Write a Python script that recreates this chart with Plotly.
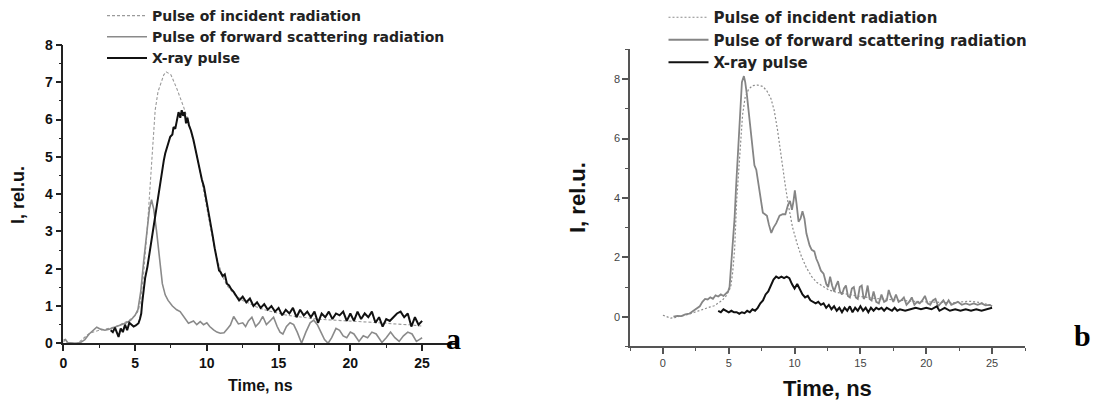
import plotly.graph_objects as go

# ---- panel a ----
a_inc_t = [0, 0.15, 0.3, 0.6, 0.9, 1.1, 1.3, 1.5, 1.7, 1.9,
           2.2, 2.5, 2.8, 3.1, 3.4, 3.8, 4.2, 4.6, 5.0, 5.2,
           5.35, 5.58, 5.86, 6.1, 6.25, 6.4, 6.6, 6.8, 7.0, 7.17,
           7.5, 7.91, 8.1, 8.38, 8.72, 9.07, 9.3, 9.6, 9.9, 10.2,
           10.5, 10.8, 11.1, 11.4, 11.7, 12.0, 12.5, 13.0, 13.5, 14.0,
           14.5, 15.0, 15.5, 16.0, 16.5, 17.0, 17.5, 18.0, 18.5, 19.0,
           19.5, 20.0, 20.5, 21.0, 21.5, 22.0, 22.5, 23.0, 23.5, 24.0,
           24.5, 25.0]
a_inc_i = [0.03, 0.1, 0.0, 0.0, 0.0, 0.03, 0.1, 0.17, 0.23, 0.28,
           0.32, 0.35, 0.37, 0.39, 0.42, 0.47, 0.54, 0.62, 0.75, 0.85,
           1.07, 1.79, 3.13, 4.65, 5.6, 6.25, 6.75, 7.0, 7.2, 7.28,
           7.2, 6.83, 6.65, 6.34, 5.95, 5.45, 5.05, 4.45, 3.8, 3.15,
           2.6, 2.15, 1.8, 1.55, 1.4, 1.28, 1.15, 1.05, 0.97, 0.9,
           0.85, 0.8, 0.76, 0.73, 0.7, 0.68, 0.66, 0.64, 0.63, 0.62,
           0.6, 0.6, 0.58, 0.57, 0.56, 0.55, 0.54, 0.52, 0.52, 0.5,
           0.48, 0.46]

a_fwd_t = [0, 0.15, 0.3, 0.6, 0.9, 1.2, 1.5, 1.8, 2.1, 2.33,
           2.6, 2.9, 3.2, 3.5, 3.8, 4.1, 4.4, 4.7, 5.0, 5.2,
           5.4, 5.6, 5.8, 6.0, 6.15, 6.3, 6.5, 6.7, 6.9, 7.1,
           7.3, 7.6, 7.9, 8.14, 8.4, 8.72, 9.07, 9.3, 9.54, 9.77,
           10.0, 10.2, 10.47, 10.7, 10.94, 11.2, 11.45, 11.64, 11.87, 12.05,
           12.2, 12.5, 12.7, 12.9, 13.14, 13.4, 13.65, 13.9, 14.15, 14.4,
           14.65, 14.9, 15.1, 15.3, 15.55, 15.8, 16.05, 16.3, 16.6, 16.9,
           17.2, 17.45, 17.7, 17.95, 18.2, 18.45, 18.7, 19.0, 19.25, 19.5,
           19.75, 20.0, 20.25, 20.6, 20.9, 21.2, 21.5, 21.8, 22.2, 22.5,
           22.8, 23.1, 23.4, 23.7, 24.0, 24.3, 24.6, 24.8, 25.0]
a_fwd_i = [0.08, 0.1, 0.02, 0.0, 0.0, 0.02, 0.1, 0.25, 0.35, 0.43,
           0.38, 0.35, 0.38, 0.42, 0.45, 0.5, 0.55, 0.62, 0.75, 0.9,
           1.4, 2.2, 3.0, 3.6, 3.85, 3.6, 3.0, 2.3, 1.6, 1.3,
           1.15, 1.0, 0.9, 0.85, 0.7, 0.54, 0.6, 0.5, 0.58, 0.5,
           0.55, 0.45, 0.36, 0.3, 0.27, 0.28, 0.4, 0.49, 0.72, 0.6,
           0.52, 0.55, 0.45, 0.6, 0.7, 0.45, 0.55, 0.72, 0.5, 0.6,
           0.7, 0.45, 0.3, 0.25, 0.45, 0.55, 0.5, 0.3, 0.0, 0.3,
           0.55, 0.62, 0.5, 0.3, 0.1, 0.0, 0.15, 0.4, 0.35, 0.2,
           0.15, 0.3, 0.25, 0.05, 0.2, 0.15, 0.3, 0.25, 0.02, 0.15,
           0.3, 0.15, 0.05, 0.2, 0.3, 0.25, 0.05, 0.1, 0.15]

a_xray_t = [3.3, 3.45, 3.6, 3.75, 3.85, 4.0, 4.15, 4.3, 4.45, 4.6,
            4.75, 4.9, 5.05, 5.15, 5.24, 5.34, 5.43, 5.5, 5.58, 5.7,
            5.86, 6.0, 6.17, 6.3, 6.4, 6.5, 6.63, 6.75, 6.87, 7.0,
            7.1, 7.25, 7.45, 7.6, 7.68, 7.8, 7.9, 8.03, 8.15, 8.25,
            8.35, 8.45, 8.55, 8.65, 8.75, 8.9, 9.07, 9.2, 9.35, 9.5,
            9.65, 9.8, 9.95, 10.1, 10.25, 10.4, 10.55, 10.7, 10.85, 10.94,
            11.1, 11.25, 11.4, 11.55, 11.7, 11.87,
            12.0, 12.25, 12.5, 12.75, 13.0, 13.25, 13.5, 13.75, 14.0, 14.25,
            14.5, 14.75, 15.0, 15.25, 15.5, 15.75, 16.0, 16.25, 16.5, 16.75,
            17.0, 17.25, 17.5, 17.75, 18.0, 18.25, 18.5, 18.75, 19.0, 19.25,
            19.5, 19.75, 20.0, 20.25, 20.5, 20.75, 21.0, 21.25, 21.5, 21.75,
            22.0, 22.25, 22.5, 22.75, 23.0, 23.25, 23.5, 23.75, 24.0, 24.25,
            24.5, 24.75, 25.0]
a_xray_i = [0.35, 0.3, 0.42, 0.25, 0.17, 0.4, 0.3, 0.5, 0.35, 0.55,
            0.5, 0.45, 0.48, 0.5, 0.54, 0.65, 0.8, 1.1, 1.43, 1.75,
            2.05, 2.4, 2.77, 3.1, 3.4, 3.7, 4.02, 4.35, 4.65, 4.9,
            5.09, 5.3, 5.54, 5.6, 5.8, 5.75, 5.95, 6.2, 6.05, 6.25,
            6.1, 6.2, 5.9, 6.05, 5.85, 5.7, 5.45, 5.2, 4.95, 4.7,
            4.4, 4.2, 3.9, 3.6, 3.25, 2.9, 2.55, 2.2, 1.95, 1.92,
            1.8, 1.85, 1.6, 1.55, 1.45, 1.38,
            1.3, 1.15, 1.25, 1.1, 1.2, 1.0, 1.1, 0.95, 1.05, 0.9,
            1.0, 0.85, 0.95, 0.75, 0.9, 0.8, 0.95, 0.7, 0.9, 0.75,
            0.85, 0.7, 0.85, 0.55, 0.8, 0.7, 0.85, 0.65, 0.8, 0.75,
            0.85, 0.6, 0.8, 0.6, 0.85, 0.65, 0.8, 0.7, 0.85, 0.55,
            0.7, 0.45, 0.65, 0.6, 0.7, 0.8, 0.85, 0.7, 0.8, 0.45,
            0.7, 0.5, 0.6]

# ---- panel b ----
b_inc_t = [0.0, 0.3, 0.6, 0.9, 1.2, 1.5, 1.8, 2.1, 2.4, 2.7,
           3.0, 3.3, 3.6, 3.9, 4.2, 4.5, 4.8, 5.0, 5.15, 5.3,
           5.45, 5.6, 5.75, 5.9, 6.05, 6.25, 6.5, 6.8, 7.2, 7.6,
           7.9, 8.2, 8.45, 8.7, 9.0, 9.3, 9.55, 9.85, 10.2, 10.5,
           10.9, 11.3, 11.7, 12.2, 12.6, 13.2, 14.0, 15.0, 16.0, 17.0,
           18.0, 19.0, 20.0, 21.0, 22.0, 22.7, 23.3, 24.0, 24.5, 25.0]
b_inc_i = [0.05, 0.0, -0.05, -0.03, 0.0, 0.02, 0.05, 0.1, 0.15, 0.2,
           0.25, 0.3, 0.33, 0.37, 0.45, 0.55, 0.7, 0.85, 1.0, 1.5,
           2.3, 3.9, 5.0, 6.1, 6.8, 7.4, 7.65, 7.78, 7.8, 7.75,
           7.6, 7.35, 6.95, 6.3, 5.3, 4.4, 3.7, 3.0, 2.45, 2.05,
           1.65, 1.35, 1.15, 1.0, 0.9, 0.82, 0.75, 0.68, 0.62, 0.58,
           0.55, 0.52, 0.5, 0.48, 0.47, 0.5, 0.52, 0.48, 0.42, 0.38]

b_fwd_t = [0.8, 1.1, 1.4, 1.7, 2.0, 2.3, 2.6, 2.8, 3.0, 3.2,
           3.4, 3.6, 3.8, 4.0, 4.2, 4.4, 4.6, 4.8, 4.95, 5.06,
           5.2, 5.35, 5.44, 5.56, 5.69, 5.8, 5.89, 6.0, 6.15, 6.25,
           6.37, 6.48, 6.58, 6.7, 6.83, 6.95, 7.09, 7.2, 7.34, 7.45,
           7.59, 7.75, 7.9, 8.05, 8.23, 8.4, 8.61, 8.86, 9.1, 9.3,
           9.49, 9.65, 9.8, 9.92, 10.02, 10.15, 10.3, 10.45, 10.6, 10.75,
           10.9, 11.14, 11.3, 11.5, 11.65, 11.8, 12.0, 12.2, 12.41, 12.55,
           12.7, 12.85, 13.0, 13.15, 13.3, 13.45, 13.6, 13.75, 13.9, 14.05,
           14.2, 14.35, 14.5, 14.65, 14.8, 14.95, 15.1, 15.25, 15.4, 15.55,
           15.7, 15.85, 16.0, 16.2, 16.4, 16.6, 16.8, 17.0, 17.15, 17.3,
           17.5, 17.7, 17.9, 18.1, 18.3, 18.5, 18.7, 18.9, 19.1, 19.3,
           19.5, 19.7, 19.9, 20.1, 20.3, 20.5, 20.7, 20.9, 21.1, 21.3,
           21.5, 21.7, 21.9, 22.1, 22.4, 22.7, 23.0, 23.3, 23.6, 23.9,
           24.2, 24.5, 24.8, 25.0]
b_fwd_i = [0.0, 0.03, 0.02, 0.08, 0.1, 0.2, 0.28, 0.35, 0.5, 0.6,
           0.58, 0.65, 0.6, 0.72, 0.68, 0.75, 0.7, 0.8, 0.85, 1.0,
           1.8, 2.7, 3.3, 4.4, 5.5, 6.6, 7.4, 7.9, 8.1, 7.9,
           7.5, 7.0, 6.6, 6.0, 5.5, 5.1, 4.95, 4.6, 4.15, 3.8,
           3.5, 3.45, 3.4, 3.1, 2.82, 3.0, 3.15, 3.4, 3.45, 3.45,
           3.75, 3.9, 3.6, 3.9, 4.25, 3.8, 3.2, 3.3, 3.55, 3.3,
           2.8, 2.4, 2.25, 2.2, 1.95, 1.8, 1.55, 1.45, 1.1, 1.0,
           1.35, 1.05, 0.85, 1.05, 1.2, 0.85, 0.75, 0.95, 1.05, 0.7,
           0.65, 0.95, 1.0, 0.65, 0.6, 1.0, 1.05, 0.6, 0.7, 1.05,
           0.6, 0.55, 0.85, 0.5, 0.45, 0.75, 0.5, 0.55, 0.9, 0.7,
           0.5, 0.75, 0.5, 0.55, 0.65, 0.4, 0.5, 0.65, 0.4, 0.5,
           0.45, 0.55, 0.7, 0.45, 0.4, 0.55, 0.6, 0.35, 0.45, 0.55,
           0.4, 0.55, 0.4, 0.45, 0.5, 0.4, 0.45, 0.4, 0.45, 0.4,
           0.45, 0.38, 0.4, 0.35]

b_xray_t = [4.2, 4.4, 4.6, 4.8, 5.0, 5.2, 5.4, 5.6, 5.8, 6.0,
            6.2, 6.4, 6.6, 6.8, 7.0, 7.2, 7.4, 7.6, 7.8, 8.0,
            8.2, 8.4, 8.6, 8.8, 9.0, 9.2, 9.4, 9.6, 9.8, 10.0,
            10.2, 10.4, 10.6, 10.8, 11.0, 11.2, 11.4, 11.6, 11.8, 12.0,
            12.2, 12.4, 12.6, 12.8, 13.0, 13.2, 13.4, 13.6, 13.8, 14.0,
            14.2, 14.4, 14.6, 14.8, 15.0, 15.2, 15.4, 15.6, 15.8, 16.0,
            16.2, 16.4, 16.6, 16.8, 17.0, 17.2, 17.4, 17.6, 17.8, 18.0,
            18.4, 18.8, 19.2, 19.6, 20.0, 20.4, 20.8, 21.0, 21.4, 21.8,
            22.2, 22.6, 23.0, 23.4, 23.8, 24.2, 24.6, 25.0]
b_xray_i = [0.2, 0.15, 0.25, 0.2, 0.15, 0.2, 0.15, 0.15, 0.1, 0.15,
            0.12, 0.2, 0.15, 0.25, 0.2, 0.3, 0.45, 0.55, 0.75, 0.85,
            1.05, 1.25, 1.35, 1.3, 1.35, 1.3, 1.35, 1.3, 1.1, 0.95,
            1.1, 0.9, 0.75, 0.65, 0.7, 0.55, 0.5, 0.45, 0.5, 0.4,
            0.45, 0.3, 0.4, 0.25, 0.35, 0.2, 0.3, 0.15, 0.3, 0.2,
            0.35, 0.15, 0.3, 0.2, 0.35, 0.2, 0.3, 0.15, 0.3, 0.2,
            0.3, 0.25, 0.3, 0.2, 0.3, 0.25, 0.2, 0.3, 0.2, 0.25,
            0.2, 0.25, 0.3, 0.25, 0.3, 0.25, 0.35, 0.2, 0.3, 0.2,
            0.25, 0.2, 0.25, 0.2, 0.25, 0.2, 0.25, 0.3]

names = ["Pulse of incident radiation",
         "Pulse of forward scattering radiation",
         "X-ray pulse"]

FONT = "Liberation Sans, Arial, sans-serif"
LEG_FONT = "DejaVu Sans, sans-serif"

fig = go.Figure()

# panel a
fig.add_scatter(x=a_inc_t, y=a_inc_i, name=names[0], mode="lines",
                line=dict(color="#9a9a9a", width=1.1, dash="3px,2px"),
                xaxis="x", yaxis="y", legend="legend")
fig.add_scatter(x=a_fwd_t, y=a_fwd_i, name=names[1], mode="lines",
                line=dict(color="#8a8a8a", width=1.6),
                xaxis="x", yaxis="y", legend="legend")
fig.add_scatter(x=a_xray_t, y=a_xray_i, name=names[2], mode="lines",
                line=dict(color="#111111", width=2),
                xaxis="x", yaxis="y", legend="legend")

# panel b
fig.add_scatter(x=b_inc_t, y=b_inc_i, name=names[0], mode="lines",
                line=dict(color="#8c8c8c", width=1.2, dash="2px,2px"),
                xaxis="x2", yaxis="y2", legend="legend2")
fig.add_scatter(x=b_fwd_t, y=b_fwd_i, name=names[1], mode="lines",
                line=dict(color="#858585", width=1.8),
                xaxis="x2", yaxis="y2", legend="legend2")
fig.add_scatter(x=b_xray_t, y=b_xray_i, name=names[2], mode="lines",
                line=dict(color="#111111", width=2),
                xaxis="x2", yaxis="y2", legend="legend2")

W, H = 1094, 403


def ax(color, font, **kw):
    d = dict(showline=True, linecolor=color, linewidth=1.5, ticks="outside",
             ticklen=6, tickwidth=1.5, tickcolor=color, showgrid=False,
             zeroline=False, automargin=False, tickfont=font,
             minor=dict(ticks="outside", ticklen=3, tickwidth=1.2,
                        tickcolor=color))
    d.update(kw)
    return d


font_a = dict(family=FONT, size=14, color="#111", weight="bold")
font_b = dict(family=FONT, size=11, color="#444")

fig.update_layout(
    width=W, height=H, autosize=False,
    margin=dict(l=0, r=0, t=0, b=0, pad=0, autoexpand=False),
    paper_bgcolor="white", plot_bgcolor="white",
    xaxis=ax("#222", font_a, domain=[63.3 / W, 458 / W], range=[0, 27.5],
             anchor="y", tick0=0, dtick=5, minor_dtick=2.5),
    yaxis=ax("#222", font_a, domain=[1 - 343.3 / H, 1 - 45 / H], range=[0, 8],
             anchor="x", tick0=0, dtick=1, minor_dtick=0.5),
    xaxis2=ax("#555", font_b, domain=[630 / W, 1025 / W], range=[-2.5, 27.5],
              anchor="y2", tick0=0, dtick=5, minor_dtick=2.5),
    yaxis2=ax("#555", font_b, domain=[1 - 346.4 / H, 1 - 49.4 / H], range=[-1, 9],
              anchor="x2", tick0=0, dtick=2, minor_dtick=1),
    legend=dict(x=102 / W, y=1.0, xanchor="left", yanchor="top",
                bgcolor="rgba(0,0,0,0)", tracegroupgap=0, itemwidth=40,
                font=dict(family=LEG_FONT, size=14, color="#222", weight="bold")),
    legend2=dict(x=663.5 / W, y=1 - 1 / H, xanchor="left", yanchor="top",
                 bgcolor="rgba(0,0,0,0)", tracegroupgap=0, itemwidth=40,
                 font=dict(family=LEG_FONT, size=15, color="#222", weight="bold")),
    showlegend=True,
)

title_a = dict(family=FONT, size=16, color="#111", weight="bold")
title_ay = dict(family=FONT, size=18, color="#111", weight="bold")
title_b = dict(family=FONT, size=22, color="#111", weight="bold")
label_f = dict(family="Liberation Serif, Times New Roman, serif", size=30,
               color="#000", weight="bold")

centred = dict(xref="paper", yref="paper", showarrow=False,
               xanchor="center", yanchor="middle")
fig.add_annotation(text="Time, ns", x=260.7 / W, y=1 - 385 / H,
                   font=title_a, **centred)
fig.add_annotation(text="I, rel.u.", x=18 / W, y=1 - 195 / H,
                   font=title_ay, textangle=-90, **centred)
fig.add_annotation(text="Time, ns", x=827.5 / W, y=1 - 388 / H,
                   font=title_b, **centred)
fig.add_annotation(text="I, rel.u.", x=577 / W, y=1 - 198 / H,
                   font=title_b, textangle=-90, **centred)
fig.add_annotation(text="a", x=453 / W, y=1 - 338 / H, font=label_f, **centred)
fig.add_annotation(text="b", x=1082 / W, y=1 - 335 / H, font=label_f, **centred)

# drop the default page margin so the figure sits at the window's top-left
fig.write_html("out.html",
               config={"displayModeBar": False},
               post_script="document.body.style.margin='0';"
                           "document.body.style.overflow='hidden';")
